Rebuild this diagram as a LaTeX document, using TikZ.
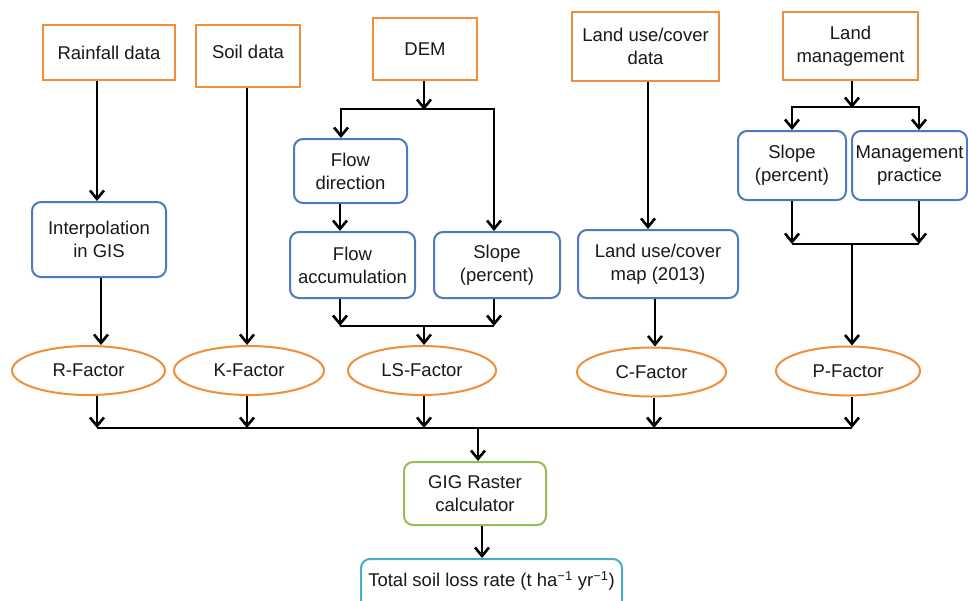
\documentclass[tikz,border=0pt]{standalone}
\usepackage{fontspec}
\setmainfont{Liberation Sans}
\usetikzlibrary{arrows.meta,shapes.geometric}
\definecolor{orng}{RGB}{240,142,60}
\definecolor{bluebox}{RGB}{79,121,190}
\definecolor{greenbox}{RGB}{155,187,89}
\definecolor{tealbox}{RGB}{75,172,198}
\definecolor{txt}{RGB}{25,25,25}
\begin{document}
\begin{tikzpicture}[x=1pt,y=-1pt,
  every node/.style={font=\fontsize{18.5}{23}\selectfont, text=txt, align=center, inner sep=0pt},
  databox/.style={draw=orng, line width=2pt, rectangle},
  procbox/.style={draw=bluebox, line width=2pt, rectangle, rounded corners=9pt},
  factor/.style={draw=orng, line width=2pt, ellipse, minimum height=49pt},
  calcbox/.style={draw=greenbox, line width=2pt, rectangle, rounded corners=9pt},
  outbox/.style={draw=tealbox, line width=2pt, rectangle, rounded corners=9pt},
  conn/.style={line width=2.6pt, draw=black},
  arr/.style={conn, -{Straight Barb[length=8.5pt,width=14pt]}}
]
\useasboundingbox (0,0) rectangle (968,600);
\fill[white] (0,0) rectangle (968,600);
\clip (0,0) rectangle (968,600);

% top data boxes
\node[databox, minimum width=132pt, minimum height=55pt] (rain) at (109,52.5) {Rainfall data};
\node[databox, minimum width=104pt, minimum height=62pt] (soil) at (248,56) {};
\node (soiltxt) at (248,52) {Soil data};
\node[databox, minimum width=104pt, minimum height=62pt] (dem) at (425,49) {DEM};
\node[databox, minimum width=147pt, minimum height=69pt] (luc) at (645.5,46.5) {Land use/cover\\data};
\node[databox, minimum width=135pt, minimum height=68pt] (lm) at (850.5,46) {Land\\management};

% processing boxes
\node[procbox, minimum width=134pt, minimum height=75pt] (interp) at (99,239.5) {Interpolation\\in GIS};
\node[procbox, minimum width=113pt, minimum height=64pt] (fdir) at (350.5,171) {Flow\\direction};
\node[procbox, minimum width=125pt, minimum height=66pt] (facc) at (352.5,265) {Flow\\accumulation};
\node[procbox, minimum width=126pt, minimum height=66pt] (slopea) at (497,265) {Slope\\(percent)};
\node[procbox, minimum width=160pt, minimum height=68pt] (lucmap) at (658,264) {Land use/cover\\map (2013)};
\node[procbox, minimum width=108pt, minimum height=69pt] (slopeb) at (792,165.5) {Slope\\(percent)};
\node[procbox, minimum width=115pt, minimum height=69pt] (mgmt) at (909.5,165.5) {Management\\practice};

% factors
\node[factor, minimum width=153pt] (rfac) at (88.5,370.5) {R-Factor};
\node[factor, minimum width=150pt] (kfac) at (249,370.5) {K-Factor};
\node[factor, minimum width=148pt] (lsfac) at (422,370.5) {LS-Factor};
\node[factor, minimum width=149pt] (cfac) at (651.5,372) {C-Factor};
\node[factor, minimum width=144pt] (pfac) at (848,371) {P-Factor};

% calculator and output
\node[calcbox, minimum width=142pt, minimum height=63pt] (gig) at (475,493.5) {GIG Raster\\calculator};
\node[outbox, minimum width=261pt, minimum height=50pt] (total) at (491.5,584) {};
\node (totaltxt) at (491.5,581) {Total soil loss rate (t ha\textsuperscript{−1} yr\textsuperscript{−1})};

% junction coordinates
\coordinate (demj) at (424,109);
\coordinate (lsj) at (424,326);
\coordinate (lmj) at (852,107);
\coordinate (pj) at (852,244);
\coordinate (busr) at (97,428);
\coordinate (busp) at (852,428);
\coordinate (busg) at (478,428);

% rainfall branch
\draw[arr] (rain.south -| 97,0) -- (interp.north -| 97,0);
\draw[arr] (interp.south -| 101,0) -- (rfac.north -| 101,0);

% soil branch
\draw[arr] (soil.south -| 247,0) -- (kfac.north -| 247,0);

% DEM branch
\draw[arr] (dem.south -| demj) -- ([yshift=-1pt]demj);
\draw[arr] (demj) -| (fdir.north -| 341,0);
\draw[arr] (demj) -| (slopea.north -| 494,0);
\draw[arr] (fdir.south -| 340,0) -- (facc.north -| 340,0);
\draw[arr] (facc.south -| 340,0) -- (lsj -| 340,0);
\draw[arr] (slopea.south -| 494,0) -- (lsj -| 494,0);
\draw[conn] (lsj -| 340,0) -- (lsj -| 494,0);
\draw[arr] (lsj) -- (lsfac.north -| lsj);

% land use branch
\draw[arr] (luc.south -| 648,0) -- (lucmap.north -| 648,0);
\draw[arr] (lucmap.south -| 655,0) -- (cfac.north -| 655,0);

% land management branch
\draw[arr] (lm.south -| lmj) -- ([yshift=-1pt]lmj);
\draw[arr] (lmj) -| (slopeb.north -| 792,0);
\draw[arr] (lmj) -| (mgmt.north -| 919,0);
\draw[arr] (slopeb.south -| 792,0) -- (pj -| 792,0);
\draw[arr] (mgmt.south -| 919,0) -- (pj -| 919,0);
\draw[conn] (pj -| 792,0) -- (pj -| 919,0);
\draw[arr] (pj) -- (pfac.north -| pj);

% factors to bus
\draw[arr] (rfac.south -| 97,0) -- (busr);
\draw[arr] (kfac.south -| 247,0) -- (busr -| 247,0);
\draw[arr] (lsfac.south -| 424,0) -- (busr -| 424,0);
\draw[arr] (cfac.south -| 654,0) -- (busr -| 654,0);
\draw[arr] (pfac.south -| 852,0) -- (busp);
\draw[conn] (busr) -- (busp);

% to calculator and output
\draw[arr] (busg) -- (gig.north -| busg);
\draw[arr] (gig.south -| 482,0) -- (total.north -| 482,0);
\end{tikzpicture}
\end{document}
